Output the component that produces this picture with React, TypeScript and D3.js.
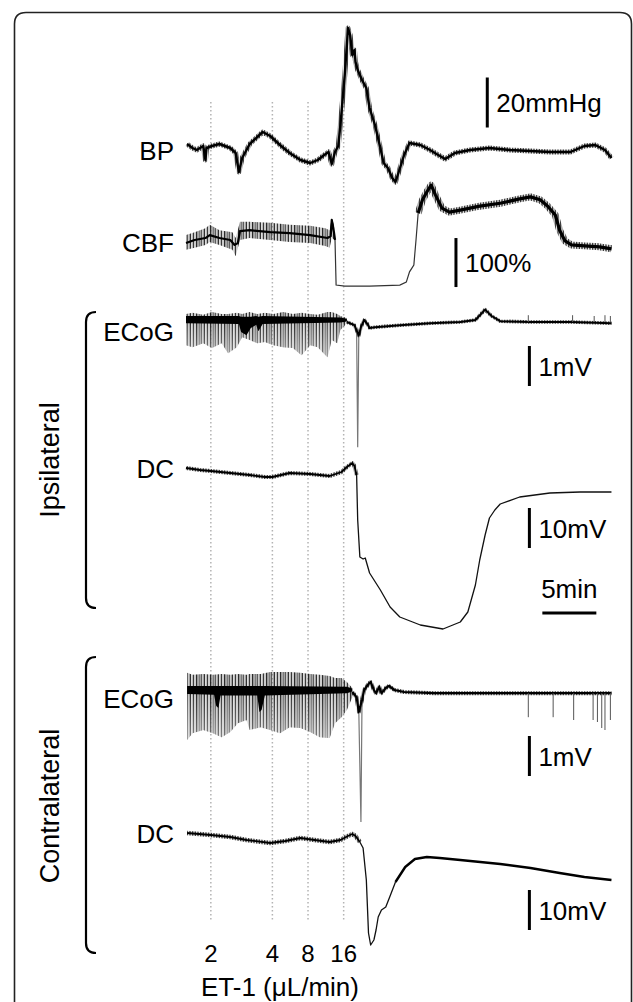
import React from 'react';
import * as d3 from 'd3';

type P = [number, number];
type E = [number, number, number];

// ET-1 infusion steps (minutes from start of recording)
const doseLabels = ['2', '4', '8', '16'];
const doseTimes = [2.3, 8.0, 11.3, 14.6];

// BP, mmHg
const bpTrace: P[] = [
  [0.1, 102.4], [0.6, 100.8], [1.0, 100], [1.6, 101.6], [1.8, 96], [1.9, 100.8], [2.4, 101.6],
  [3.1, 102.4], [4.1, 100.8], [4.6, 98.8], [4.9, 91.2], [5.2, 96.8], [5.9, 102.4], [6.7, 105.6],
  [7.1, 107.2], [7.8, 105.6], [8.7, 102], [9.6, 98.8], [10.6, 96], [11.5, 94.8], [12.2, 96],
  [12.8, 98], [13.2, 99.2], [13.5, 94.4], [13.8, 99.2], [14.1, 101.6], [14.3, 110], [14.5, 120],
  [14.7, 130], [14.9, 142], [15.0, 148.8], [15.2, 146], [15.4, 138], [15.6, 140], [15.7, 135.2],
  [15.9, 132], [16.3, 128], [16.7, 124.8], [17.0, 116.8], [17.5, 110], [18.0, 100.8], [18.3, 94.8],
  [18.7, 92.8], [19.1, 88.8], [19.4, 87.2], [19.7, 91.2], [20.2, 98], [20.7, 102.8], [21.7, 102],
  [22.6, 100], [23.2, 98.4], [24.0, 96.4], [24.9, 98.8], [26.3, 100], [28.1, 100.8], [30.0, 100],
  [31.9, 99.6], [33.7, 99.2], [35.6, 99.2], [36.9, 101.6], [37.9, 102], [38.8, 100], [39.4, 96.8],
];

// CBF, % of baseline
const cbfPre: P[] = [
  [0, 94], [0.8, 100], [1.8, 104], [2.2, 110], [3.1, 104], [4.1, 100], [4.5, 90], [4.8, 94],
  [5.0, 118], [5.9, 120], [7.8, 116], [9.6, 114], [11.5, 110], [13.1, 104], [13.4, 108],
  [13.5, 141], [13.7, 116], [13.8, 100],
];
const cbfPreNoise: E[] = [
  [0, 110, 80], [0.8, 116, 84], [1.8, 124, 90], [2.2, 131, 96], [3.1, 120, 90], [4.3, 116, 80],
  [4.6, 104, 67], [5.0, 137, 100], [5.9, 137, 104], [7.8, 135, 100], [9.6, 131, 96],
  [11.5, 129, 94], [12.9, 124, 88], [13.3, 120, 84], [13.5, 145, 104], [13.8, 124, 100],
];
const cbfOcclusion: P[] = [
  [13.8, 100], [13.9, 8], [14.7, 6], [17.0, 6], [19.8, 8], [20.4, 14], [20.7, 35], [21.1, 49],
  [21.3, 100], [21.5, 155],
];
const cbfReperfusion: P[] = [
  [21.5, 155], [21.9, 182], [22.3, 198], [22.7, 212], [23.1, 192], [23.7, 165], [24.4, 157],
  [25.4, 161], [27.2, 169], [29.1, 175], [30.9, 184], [31.9, 188], [32.8, 182], [33.5, 169],
  [34.2, 151], [34.6, 120], [35.1, 98], [35.7, 90], [36.9, 88], [38.3, 86], [39.4, 82],
];

// Ipsilateral ECoG, mV
const ecogIpsiBurst: E[] = [
  [0, 0.15, -0.63], [0.6, 0.18, -0.68], [1.6, 0.13, -0.58], [2.4, 0.2, -0.7], [3.3, 0.15, -0.58],
  [3.9, 0.15, -0.83], [4.7, 0.18, -0.68], [5.2, 0.15, -0.43], [5.9, 0.2, -0.5], [6.6, 0.15, -0.58],
  [7.3, 0.18, -0.55], [8.1, 0.15, -0.63], [9.0, 0.2, -0.68], [9.9, 0.15, -0.7], [10.7, 0.18, -0.88],
  [11.5, 0.15, -0.63], [12.2, 0.13, -0.68], [13.1, 0.2, -0.93], [13.5, 0.2, -0.5], [14.0, 0.15, -0.58],
  [14.3, 0.1, -0.25], [14.9, 0.05, -0.08],
];
const ecogIpsiCore: E[] = [
  [0, 0.1, -0.08], [4.9, 0.1, -0.1], [5.1, 0.08, -0.3], [5.6, 0.08, -0.38], [6.0, 0.08, -0.2],
  [6.5, 0.1, -0.12], [6.7, 0.08, -0.28], [7.1, 0.1, -0.1], [14.3, 0.06, -0.06], [14.9, 0.03, -0.04],
];
const ecogIpsiPost: P[] = [
  [14.9, -0.05], [15.6, -0.13], [15.8, -0.26], [16.0, -0.39], [16.2, -0.18], [16.5, 0],
  [16.8, -0.1], [17.0, -0.2], [17.5, -0.18], [18.4, -0.16], [19.8, -0.13], [22.6, -0.08],
  [25.4, -0.05], [26.8, 0], [27.7, 0.26], [28.3, 0.1], [29.1, -0.03], [31.9, -0.05],
  [35.6, -0.05], [39.4, -0.08],
];
const ecogIpsiDepol: P[] = [[15.8, -0.26], [15.9, -3.18], [16.0, -0.39]];
const ecogIpsiSpikes: P[] = [[31.7, 0.12], [35.8, 0.12], [37.8, 0.1], [38.8, 0.12], [39.3, 0.1]];

// Ipsilateral DC potential, mV
const dcIpsiPre: P[] = [
  [0, 0.5], [1.3, 0], [2.3, -0.25], [4.1, -0.75], [5.9, -1.25], [7.3, -1.75], [8.0, -1.75],
  [9.6, -0.75], [11.5, -1.0], [13.3, -1.5], [14.4, -0.5], [14.9, 0.75], [15.4, 1.75],
  [15.6, 1.0], [15.8, -1.25],
];
const dcIpsiPost: P[] = [
  [15.8, -1.25], [15.9, -12.5], [16.1, -21.75], [16.4, -22.25], [16.6, -22], [17.0, -25.75],
  [18.0, -30], [18.9, -34.25], [19.8, -36.75], [21.7, -38.75], [23.8, -39.75], [25.4, -38],
  [26.1, -35.5], [26.8, -28.75], [27.2, -22.5], [27.7, -16.25], [28.1, -12], [28.6, -10],
  [29.1, -8.5], [30.9, -6.75], [33.7, -5.75], [36.5, -5.5], [39.4, -5.5],
];

// Contralateral ECoG, mV
const ecogContraBurst: E[] = [
  [0.1, 0.43, -1.25], [0.6, 0.38, -1.08], [1.6, 0.4, -1.0], [2.5, 0.38, -1.08], [3.3, 0.4, -1.18],
  [4.1, 0.38, -1.05], [4.8, 0.4, -0.83], [5.6, 0.38, -0.75], [5.9, 0.4, -1.0], [6.9, 0.4, -0.93],
  [7.8, 0.45, -1.0], [8.7, 0.45, -1.08], [9.6, 0.45, -0.93], [10.6, 0.43, -0.95], [11.5, 0.4, -1.05],
  [12.4, 0.38, -1.18], [13.3, 0.35, -1.2], [13.8, 0.3, -0.83], [14.4, 0.3, -0.68], [14.9, 0.2, -0.5],
  [15.4, 0.05, -0.18],
];
const ecogContraCore: E[] = [
  [0.1, 0.1, -0.1], [2.6, 0.1, -0.12], [2.8, 0.1, -0.4], [3.0, 0.1, -0.45], [3.2, 0.1, -0.14],
  [6.6, 0.1, -0.14], [6.8, 0.1, -0.55], [7.0, 0.1, -0.5], [7.3, 0.1, -0.14], [14.9, 0.08, -0.08],
  [15.4, 0.04, -0.04],
];
const ecogContraPost: P[] = [
  [15.4, -0.05], [15.8, -0.18], [16.0, -0.55], [16.3, -0.25], [16.5, 0], [16.9, 0.15],
  [17.1, 0.2], [17.4, 0], [17.6, -0.08], [17.9, 0.08], [18.1, -0.08], [18.5, 0.05], [18.8, 0.1],
  [19.3, 0], [20.2, -0.05], [23.0, -0.08], [29.1, -0.08], [39.4, -0.08],
];
const ecogContraDepol: P[] = [[16.0, -0.5], [16.2, -3.3], [16.3, -0.25]];
const ecogContraSpikes: P[] = [
  [31.7, -0.68], [34.0, -0.68], [35.9, -0.75], [37.7, -0.75], [38.1, -0.8], [38.5, -0.95],
  [38.8, -1.0], [39.3, -0.75],
];

// Contralateral DC potential, mV
const dcContraPre: P[] = [
  [0.1, 0.5], [2.3, 0], [4.1, -0.5], [5.6, -1.25], [7.8, -2], [9.2, -1.5], [10.6, -0.75],
  [11.9, -1.25], [13.3, -1.75], [14.3, -1.25], [15.0, -0.25], [15.4, 0.25], [15.7, -0.25],
  [16.1, -1.75],
];
const dcContraDrop: P[] = [
  [16.1, -1.75], [16.4, -3.25], [16.7, -11.25], [16.9, -24.5], [17.1, -27.5], [17.4, -26.25],
  [17.6, -23.75], [17.8, -20.5], [18.1, -18.75], [18.5, -18], [18.9, -15.25], [19.4, -11.75],
];
const dcContraRecovery: P[] = [
  [19.4, -11.75], [20.3, -8], [21.2, -6], [22.3, -5.5], [23.5, -5.75], [25.4, -6.25],
  [29.1, -7.25], [31.9, -8.25], [34.6, -9.5], [36.9, -10.5], [39.4, -11.25],
];

const FONT = '"Liberation Sans", Arial, Helvetica, sans-serif';

export default function App() {
  const x = d3.scaleLinear().domain([0, 39.45]).range([186, 612]);

  const yBP = d3.scaleLinear().domain([100, 120]).range([150, 100]);
  const yCBF = d3.scaleLinear().domain([100, 200]).range([240, 191]);
  const yEcogI = d3.scaleLinear().domain([0, 1]).range([320, 280]);
  const yDcI = d3.scaleLinear().domain([0, 10]).range([470, 430]);
  const yEcogC = d3.scaleLinear().domain([0, 1]).range([690, 650]);
  const yDcC = d3.scaleLinear().domain([0, 10]).range([835, 795]);

  const line = (data: P[], y: d3.ScaleLinear<number, number>) =>
    d3.line<P>().x(d => x(d[0])).y(d => y(d[1]))(data) || '';
  const band = (data: E[], y: d3.ScaleLinear<number, number>) =>
    d3.area<E>().x(d => x(d[0])).y0(d => y(d[2])).y1(d => y(d[1]))(data) || '';

  // noisy trace: fuzzy textured outer stroke + solid core
  const noisy = (data: P[], y: d3.ScaleLinear<number, number>, w: number, core: number) => (
    <g>
      <path d={line(data, y)} fill="none" stroke="url(#fuzz)" strokeWidth={w} strokeLinejoin="round" />
      <path d={line(data, y)} fill="none" stroke="#000" strokeWidth={core} strokeLinejoin="round" />
    </g>
  );

  const vBar = (t: number, v0: number, v1: number, y: d3.ScaleLinear<number, number>, label: string) => {
    const y0 = y(v0), y1 = y(v1);
    return (
      <g key={label + y0}>
        <line x1={x(t)} x2={x(t)} y1={y0} y2={y1} stroke="#000" strokeWidth={3} />
        <text x={x(t) + 9} y={(y0 + y1) / 2 + 9.5} fontSize={26}>{label}</text>
      </g>
    );
  };

  const bracket = (top: number, bottom: number) =>
    `M96,${top} Q86,${top} 86,${top + 10} V${bottom - 10} Q86,${bottom} 96,${bottom}`;

  const traceLabels: [string, number][] = [
    ['BP', 160], ['CBF', 252], ['ECoG', 341], ['DC', 478], ['ECoG', 708], ['DC', 843],
  ];

  // irregular comb used as texture for burst activity
  const combLines: [number, number, string][] = [
    [0, 0.9, '#111'], [1.4, 0.6, '#555'], [2.6, 1.0, '#222'], [4.3, 0.6, '#666'], [5.2, 0.9, '#333'],
    [6.8, 0.7, '#444'], [8.1, 1.0, '#1a1a1a'], [9.9, 0.6, '#777'], [11.0, 0.9, '#222'], [12.7, 0.6, '#555'],
  ];

  return (
    <svg width={633} height={1002} style={{ position: 'absolute', left: 0, top: 0, background: '#fff' }}
      fontFamily={FONT}>
      <defs>
        <pattern id="spk" width={14} height={6} patternUnits="userSpaceOnUse">
          {combLines.map(([px, w, c], i) => <rect key={i} x={px} width={w} height={6} fill={c} />)}
        </pattern>
        <pattern id="fuzz" width={1.6} height={4} patternUnits="userSpaceOnUse">
          <rect width={0.8} height={4} fill="#222" />
        </pattern>
        <linearGradient id="fadeI" gradientUnits="userSpaceOnUse" x1={0} x2={0} y1={322} y2={358}>
          <stop offset="0" stopColor="#fff" stopOpacity={0} />
          <stop offset="1" stopColor="#fff" stopOpacity={0.4} />
        </linearGradient>
        <linearGradient id="fadeC" gradientUnits="userSpaceOnUse" x1={0} x2={0} y1={695} y2={742}>
          <stop offset="0" stopColor="#fff" stopOpacity={0} />
          <stop offset="1" stopColor="#fff" stopOpacity={0.4} />
        </linearGradient>
      </defs>
      <rect width={633} height={1002} fill="#fff" />
      <path d="M14.5,1010 V24 Q14.5,12.5 26,12.5 H620 Q631.5,12.5 631.5,24 V1010"
        fill="none" stroke="#222" strokeWidth={1.6} />

      {/* dose markers */}
      {doseTimes.map((t, i) => (
        <g key={i}>
          <line x1={x(t)} x2={x(t)} y1={102} y2={920} stroke="#b3b3b3" strokeWidth={1.5}
            strokeDasharray="1.5 2.5" />
          <text x={x(t)} y={962} fontSize={24} textAnchor="middle">{doseLabels[i]}</text>
        </g>
      ))}
      <text x={280} y={996} fontSize={26} textAnchor="middle">ET-1 (μL/min)</text>

      {/* row labels */}
      {traceLabels.map(([s, yy], i) => (
        <text key={i} x={174} y={yy} fontSize={26} textAnchor="end">{s}</text>
      ))}
      <path d={bracket(312, 608)} fill="none" stroke="#000" strokeWidth={2.2} />
      <path d={bracket(657, 953)} fill="none" stroke="#000" strokeWidth={2.2} />
      <text transform="translate(59,460) rotate(-90)" fontSize={27} textAnchor="middle">Ipsilateral</text>
      <text transform="translate(59,806) rotate(-90)" fontSize={27} textAnchor="middle">Contralateral</text>

      {/* BP */}
      {noisy(bpTrace, yBP, 5, 2.4)}

      {/* CBF */}
      <path d={band(cbfPreNoise, yCBF)} fill="url(#spk)" />
      <path d={line(cbfPre, yCBF)} fill="none" stroke="#000" strokeWidth={2.2} strokeLinejoin="round" />
      <path d={line(cbfOcclusion, yCBF)} fill="none" stroke="#333" strokeWidth={1.2} />
      {noisy(cbfReperfusion, yCBF, 7, 3.2)}

      {/* ipsilateral ECoG */}
      <path d={band(ecogIpsiBurst, yEcogI)} fill="url(#spk)" />
      <path d={band(ecogIpsiBurst, yEcogI)} fill="url(#fadeI)" />
      <path d={band(ecogIpsiCore, yEcogI)} fill="#000" />
      <path d={line(ecogIpsiDepol, yEcogI)} fill="none" stroke="#777" strokeWidth={1.2} />
      {noisy(ecogIpsiPost, yEcogI, 3.6, 2)}
      {ecogIpsiSpikes.map((d, i) => (
        <line key={i} x1={x(d[0])} x2={x(d[0])} y1={yEcogI(-0.05)} y2={yEcogI(d[1])} stroke="#555" strokeWidth={1} />
      ))}

      {/* ipsilateral DC */}
      {noisy(dcIpsiPre, yDcI, 4, 1.8)}
      <path d={line(dcIpsiPost, yDcI)} fill="none" stroke="#111" strokeWidth={1.3} strokeLinejoin="round" />

      {/* contralateral ECoG */}
      <path d={band(ecogContraBurst, yEcogC)} fill="url(#spk)" />
      <path d={band(ecogContraBurst, yEcogC)} fill="url(#fadeC)" />
      <path d={band(ecogContraCore, yEcogC)} fill="#000" />
      <path d={line(ecogContraDepol, yEcogC)} fill="none" stroke="#777" strokeWidth={1.2} />
      {noisy(ecogContraPost, yEcogC, 4, 2.2)}
      {ecogContraSpikes.map((d, i) => (
        <line key={i} x1={x(d[0])} x2={x(d[0])} y1={yEcogC(-0.08)} y2={yEcogC(d[1])} stroke="#555" strokeWidth={1} />
      ))}

      {/* contralateral DC */}
      {noisy(dcContraPre, yDcC, 4.5, 1.8)}
      <path d={line(dcContraDrop, yDcC)} fill="none" stroke="#111" strokeWidth={1.3} strokeLinejoin="round" />
      <path d={line(dcContraRecovery, yDcC)} fill="none" stroke="#000" strokeWidth={2.4} strokeLinejoin="round" />

      {/* calibration bars */}
      {vBar(27.9, 109, 129, yBP, '20mmHg')}
      {vBar(25.0, 4, 104, yCBF, '100%')}
      {vBar(31.8, -1.65, -0.65, yEcogI, '1mV')}
      {vBar(31.8, -19.5, -9.5, yDcI, '10mV')}
      {vBar(31.8, -2.15, -1.15, yEcogC, '1mV')}
      {vBar(31.8, -23.75, -13.75, yDcC, '10mV')}
      <line x1={x(33)} x2={x(38)} y1={613} y2={613} stroke="#000" strokeWidth={3} />
      <text x={(x(33) + x(38)) / 2} y={598} fontSize={26} textAnchor="middle">5min</text>
    </svg>
  );
}
